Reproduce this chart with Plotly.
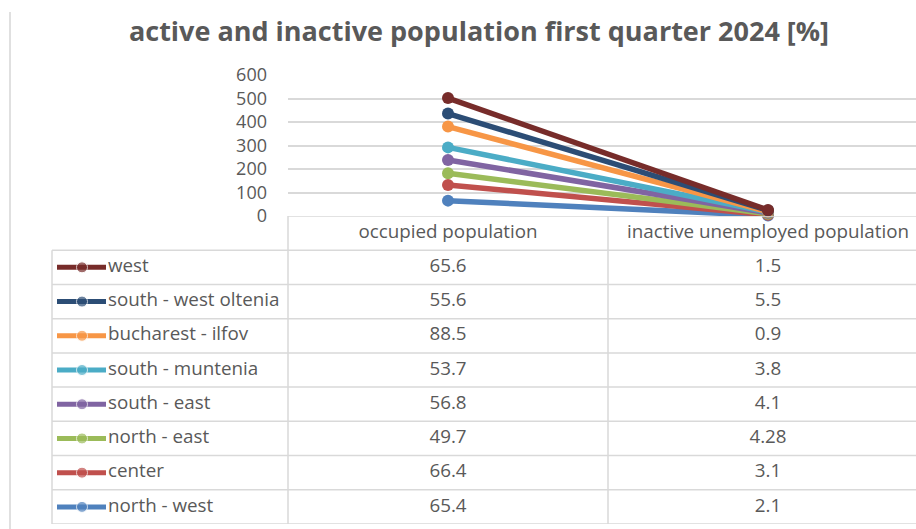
import plotly.graph_objects as go

# Categories and region series (values in %)
categories = ["occupied population", "inactive unemployed population"]
regions = ["north - west", "center", "north - east", "south - east",
           "south - muntenia", "bucharest - ilfov", "south - west oltenia", "west"]
occupied = [65.4, 66.4, 49.7, 56.8, 53.7, 88.5, 55.6, 65.6]
inactive = [2.1, 3.1, 4.28, 4.1, 3.8, 0.9, 5.5, 1.5]
inactive_labels = ["2.1", "3.1", "4.28", "4.1", "3.8", "0.9", "5.5", "1.5"]
colors = ["#4F81BD", "#C0504D", "#9BBB59", "#8064A2",
          "#4BACC6", "#F79646", "#2C4D75", "#772C2A"]
y_ticks = [0, 100, 200, 300, 400, 500, 600]

W, H = 916, 529
FONT = "Open Sans"
TXT = "#595959"
GRID = "#d9d9d9"
CELL_FONT = dict(family=FONT, size=18.8, color=TXT)

fig = go.Figure()

# Stacked lines for each region
for name, a, b, c in zip(regions, occupied, inactive, colors):
    fig.add_trace(go.Scatter(
        x=categories, y=[a, b], name=name, stackgroup="s", fill="none",
        mode="lines+markers", line=dict(color=c, width=5.5),
        marker=dict(color=c, size=12), showlegend=False, cliponaxis=False,
        hoverinfo="skip"))

# Data table below the plot: row 0 is the header, rows 1..n list the regions
table_rows = list(reversed(range(len(regions))))  # west on top
col_left, col_mid, col_right, col_end = 52, 288, 608, 928
c1 = (col_mid + col_right) / 2
c2 = (col_right + col_end) / 2

fig.add_trace(go.Scatter(
    x=[c1, c2], y=[0, 0], mode="text", text=categories, textfont=CELL_FONT,
    xaxis="x2", yaxis="y2", showlegend=False, hoverinfo="skip", cliponaxis=False))

for row, idx in enumerate(table_rows, start=1):
    c = colors[idx]
    fig.add_trace(go.Scatter(
        x=[57, 82, 106], y=[row] * 3, mode="lines+markers",
        line=dict(color=c, width=5), marker=dict(color=c, size=[0, 11, 0]),
        xaxis="x2", yaxis="y2", showlegend=False, hoverinfo="skip"))
    fig.add_trace(go.Scatter(
        x=[108], y=[row], mode="text", text=[regions[idx]],
        textposition="middle right", textfont=CELL_FONT,
        xaxis="x2", yaxis="y2", showlegend=False, hoverinfo="skip", cliponaxis=False))
    fig.add_trace(go.Scatter(
        x=[c1, c2], y=[row, row], mode="text",
        text=[f"{occupied[idx]:.1f}", inactive_labels[idx]], textfont=CELL_FONT,
        xaxis="x2", yaxis="y2", showlegend=False, hoverinfo="skip", cliponaxis=False))

n = len(regions)
shapes = []
line_style = dict(color=GRID, width=1.5)
# header top edge and horizontal row separators
shapes.append(dict(type="line", xref="x2", yref="y2", x0=col_mid, x1=col_end,
                   y0=-0.5, y1=-0.5, line=line_style, layer="below"))
for k in range(n + 1):
    shapes.append(dict(type="line", xref="x2", yref="y2", x0=col_left, x1=col_end,
                       y0=k + 0.5, y1=k + 0.5, line=line_style, layer="below"))
# vertical column separators
shapes.append(dict(type="line", xref="x2", yref="y2", x0=col_left, x1=col_left,
                   y0=0.5, y1=n + 0.5, line=line_style, layer="below"))
for xv in (col_mid, col_right):
    shapes.append(dict(type="line", xref="x2", yref="y2", x0=xv, x1=xv,
                       y0=-0.5, y1=n + 0.5, line=line_style, layer="below"))
# chart frame left edge
shapes.append(dict(type="line", xref="paper", yref="paper", x0=10 / W, x1=10 / W,
                   y0=0, y1=(H - 12) / H, line=dict(color="#e0e0e0", width=2)))

fig.update_layout(
    width=W, height=H, margin=dict(l=0, r=0, t=0, b=0, pad=0, autoexpand=False),
    paper_bgcolor="white", plot_bgcolor="white",
    title=dict(text="<b>active and inactive population first quarter 2024 [%]</b>",
               x=479 / W, xanchor="center", y=1 - 32 / H, yanchor="middle",
               automargin=False,
               font=dict(family=FONT, size=27, color=TXT)),
    xaxis=dict(domain=[288 / W, 1], type="category", range=[-0.5, 1.4625],
               showticklabels=False, showgrid=False, zeroline=False, showline=False,
               automargin=False),
    yaxis=dict(domain=[(H - 216) / H, (H - 75) / H], range=[0, 600],
               tickvals=y_ticks, ticks="", ticklabelstandoff=20,
               tickfont=dict(family=FONT, size=18, color=TXT),
               gridcolor=GRID, gridwidth=1.5, zeroline=False, showline=False,
               automargin=False),
    xaxis2=dict(domain=[0, 1], range=[0, W], visible=False, fixedrange=True,
                automargin=False),
    yaxis2=dict(domain=[(H - 524) / H, (H - 216) / H], range=[n + 0.5, -0.5],
                visible=False, fixedrange=True, automargin=False),
    shapes=shapes,
)

fig.write_html("out.html")
